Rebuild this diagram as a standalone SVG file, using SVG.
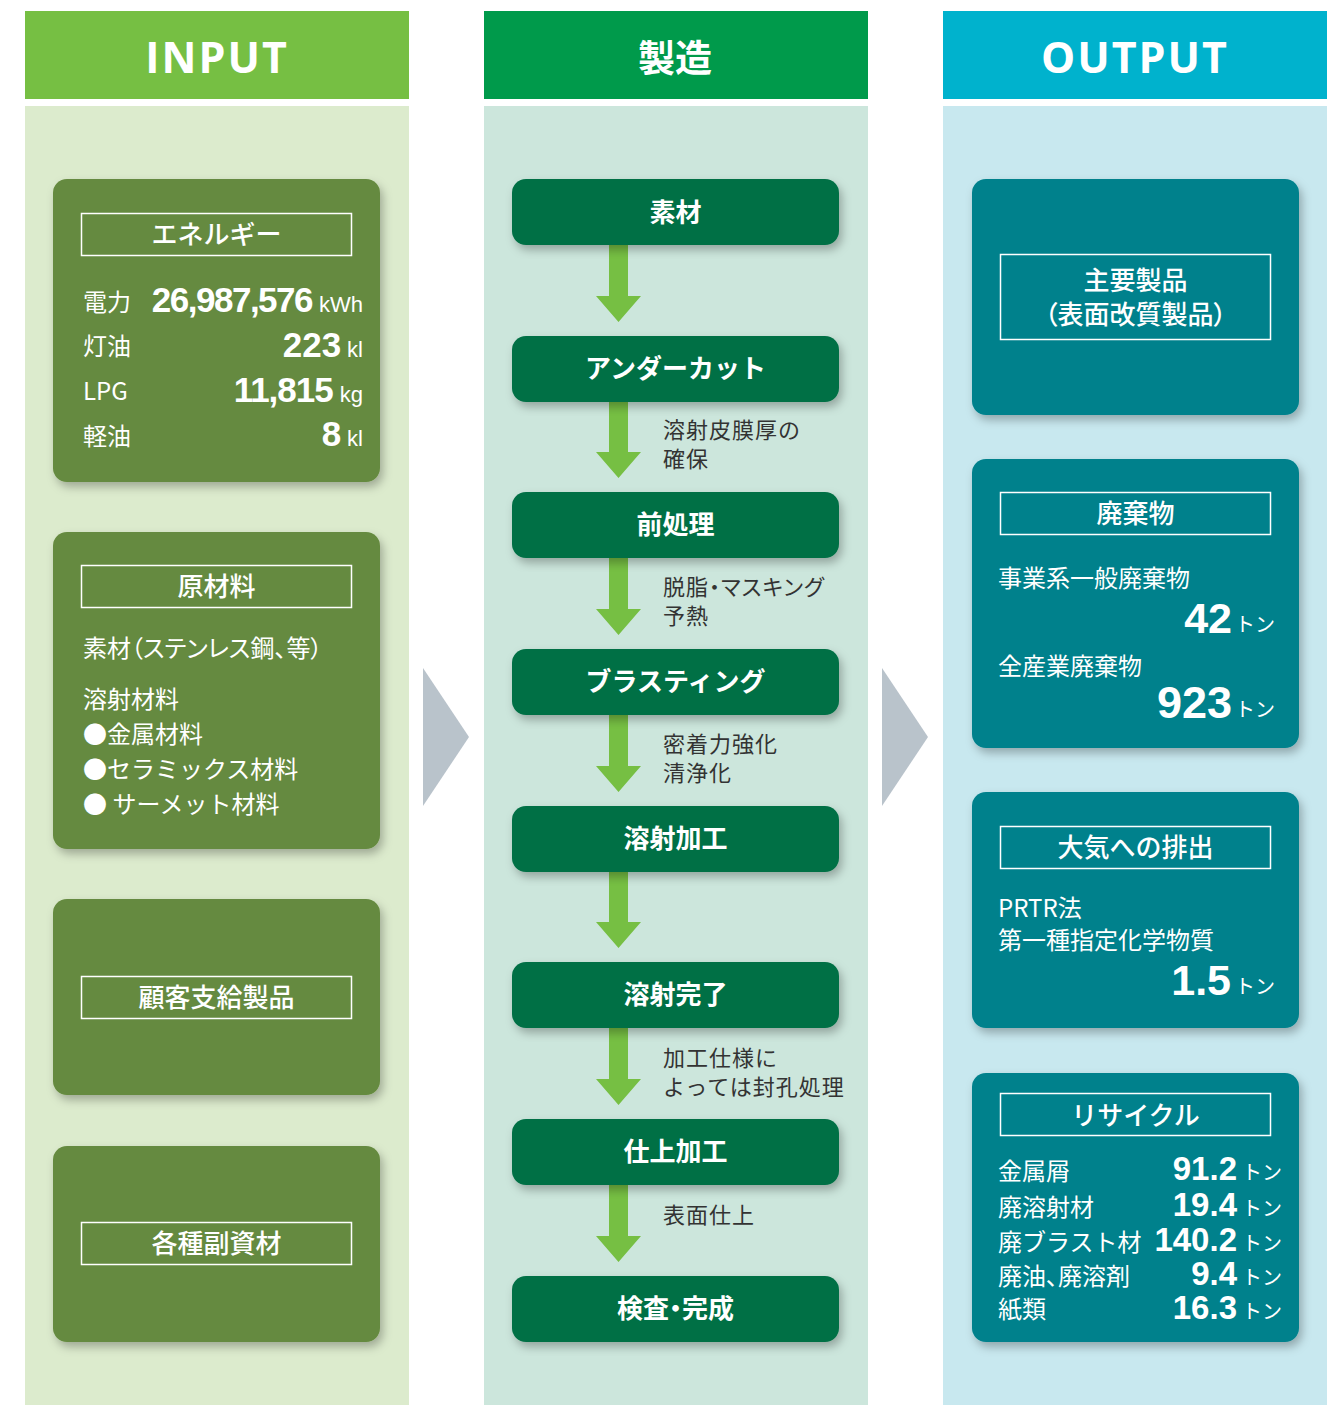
<svg xmlns="http://www.w3.org/2000/svg" width="1338" height="1405" viewBox="0 0 1338 1405">
<defs>
<filter id="sh" x="-10%" y="-10%" width="125%" height="130%">
<feDropShadow dx="3" dy="5" stdDeviation="5" flood-color="#000" flood-opacity="0.28"/>
</filter>
<style>
.hd{font-family:"Open Sans","Noto Sans",sans-serif;font-weight:bold;font-size:43px;fill:#fff;text-anchor:middle;letter-spacing:2px;}
.hdj{font-family:"Noto Sans CJK JP",sans-serif;font-weight:bold;font-size:37px;fill:#fff;text-anchor:middle;}
.ibox{fill:#658a3f;filter:url(#sh);}
.obox{fill:#00818c;filter:url(#sh);}
.pbox{fill:#006f45;filter:url(#sh);}
.frame{fill:none;stroke:#fff;stroke-width:1.5;}
.ttl{font-family:"Noto Sans CJK JP",sans-serif;font-size:26px;font-weight:500;fill:#fff;text-anchor:middle;}
.ptx{font-family:"Noto Sans CJK JP",sans-serif;font-size:26px;font-weight:bold;fill:#fff;text-anchor:middle;}
.lbl{font-family:"Noto Sans CJK JP",sans-serif;font-size:24px;fill:#fff;}
.side{font-family:"Noto Sans CJK JP",sans-serif;font-size:22px;letter-spacing:1px;fill:#333;}
.palt{font-feature-settings:"palt";}
.num{font-family:"Liberation Sans",Arial,sans-serif;font-weight:bold;fill:#fff;text-anchor:end;}
.erow{font-family:"Liberation Sans",Arial,sans-serif;fill:#fff;text-anchor:end;}
.en{font-weight:bold;font-size:35px;}
.eu{font-size:22px;}
.ton{font-family:"Noto Sans CJK JP",sans-serif;font-size:20px;fill:#fff;}
.arr{fill:#76bf43;}
.tri{fill:#b9c3cb;}
</style>
</defs>
<rect width="1338" height="1405" fill="#fff"/>
<g id="columns">
<rect x="25" y="11" width="384" height="88" fill="#76bf43"/>
<rect x="25" y="106" width="384" height="1299" fill="#dcebcd"/>
<rect x="484" y="11" width="384" height="88" fill="#009a4b"/>
<rect x="484" y="106" width="384" height="1299" fill="#cce6dc"/>
<rect x="943" y="11" width="384" height="88" fill="#00b2cd"/>
<rect x="943" y="106" width="384" height="1299" fill="#c8e8ef"/>
<text class="hd" x="217" y="73">INPUT</text>
<text class="hdj" x="675" y="72">製造</text>
<text class="hd" x="1135" y="73">OUTPUT</text>
</g>
<g id="energy">
<rect class="ibox" x="53" y="179" width="327" height="303" rx="14"/>
<rect class="frame" x="81.5" y="213.5" width="270" height="42"/>
<text class="ttl" x="216.5" y="244">エネルギー</text>
<text class="lbl" x="83" y="311">電力</text>
<text class="lbl" x="83" y="355">灯油</text>
<text class="lbl" x="83" y="400">LPG</text>
<text class="lbl" x="83" y="445">軽油</text>
<text class="erow" x="363" y="312"><tspan class="en" font-size="33" letter-spacing="-1.5">26,987,576</tspan><tspan class="eu" dx="7">kWh</tspan></text>
<text class="erow" x="363" y="357"><tspan class="en">223</tspan><tspan class="eu" dx="6">kl</tspan></text>
<text class="erow" x="363" y="402"><tspan class="en" font-size="33" letter-spacing="-1">11,815</tspan><tspan class="eu" dx="7">kg</tspan></text>
<text class="erow" x="363" y="446"><tspan class="en">8</tspan><tspan class="eu" dx="6">kl</tspan></text>
</g>
<g id="raw-materials">
<rect class="ibox" x="53" y="532" width="327" height="317" rx="14"/>
<rect class="frame" x="81.5" y="565.5" width="270" height="42"/>
<text class="ttl" x="216.5" y="596">原材料</text>
<text class="lbl palt" x="83" y="657">素材（ステンレス鋼、等）</text>
<text class="lbl" x="83" y="708">溶射材料</text>
<text class="lbl" x="83" y="743">●金属材料</text>
<text class="lbl" x="83" y="778">●セラミックス材料</text>
<text class="lbl" x="83" y="813">● サーメット材料</text>
</g>
<g id="customer-supplied">
<rect class="ibox" x="53" y="899" width="327" height="196" rx="14"/>
<rect class="frame" x="81.5" y="976.5" width="270" height="42"/>
<text class="ttl" x="216.5" y="1007">顧客支給製品</text>
</g>
<g id="auxiliary">
<rect class="ibox" x="53" y="1146" width="327" height="196" rx="14"/>
<rect class="frame" x="81.5" y="1222.5" width="270" height="42"/>
<text class="ttl" x="216.5" y="1253">各種副資材</text>
</g>
<g id="connectors">
<path class="tri" d="M423,668 L469,737 L423,806 Z"/>
<path class="tri" d="M882,668 L928,737 L882,806 Z"/>
<path class="arr" d="M609,245 H628 V296 H641 L618.5,322 L596,296 H609 Z"/>
<path class="arr" d="M609,402 H628 V452 H641 L618.5,478 L596,452 H609 Z"/>
<path class="arr" d="M609,558 H628 V609 H641 L618.5,635 L596,609 H609 Z"/>
<path class="arr" d="M609,715 H628 V766 H641 L618.5,792 L596,766 H609 Z"/>
<path class="arr" d="M609,872 H628 V922 H641 L618.5,948 L596,922 H609 Z"/>
<path class="arr" d="M609,1028 H628 V1079 H641 L618.5,1105 L596,1079 H609 Z"/>
<path class="arr" d="M609,1185 H628 V1236 H641 L618.5,1262 L596,1236 H609 Z"/>
</g>
<g id="p-sozai"><rect class="pbox" x="512" y="179" width="327" height="66" rx="14"/><text class="ptx" x="675.5" y="222">素材</text></g>
<g id="p-undercut"><rect class="pbox" x="512" y="336" width="327" height="66" rx="14"/><text class="ptx" x="675.5" y="378">アンダーカット</text></g>
<g id="p-pretreat"><rect class="pbox" x="512" y="492" width="327" height="66" rx="14"/><text class="ptx" x="675.5" y="534">前処理</text></g>
<g id="p-blasting"><rect class="pbox" x="512" y="649" width="327" height="66" rx="14"/><text class="ptx" x="675.5" y="691">ブラスティング</text></g>
<g id="p-spray"><rect class="pbox" x="512" y="806" width="327" height="66" rx="14"/><text class="ptx" x="675.5" y="848">溶射加工</text></g>
<g id="p-spraydone"><rect class="pbox" x="512" y="962" width="327" height="66" rx="14"/><text class="ptx" x="675.5" y="1004">溶射完了</text></g>
<g id="p-finish"><rect class="pbox" x="512" y="1119" width="327" height="66" rx="14"/><text class="ptx" x="675.5" y="1161">仕上加工</text></g>
<g id="p-inspect"><rect class="pbox" x="512" y="1276" width="327" height="66" rx="14"/><text class="ptx palt" x="675.5" y="1318">検査・完成</text></g>
<g id="side-notes">
<text class="side" x="663" y="438">溶射皮膜厚の<tspan x="663" dy="29">確保</tspan></text>
<text class="side palt" x="663" y="595">脱脂・マスキング<tspan x="663" dy="29">予熱</tspan></text>
<text class="side" x="663" y="752">密着力強化<tspan x="663" dy="29">清浄化</tspan></text>
<text class="side" x="663" y="1066">加工仕様に<tspan x="663" dy="29">よっては封孔処理</tspan></text>
<text class="side" x="663" y="1223">表面仕上</text>
</g>
<g id="main-products">
<rect class="obox" x="972" y="179" width="327" height="236" rx="14"/>
<rect class="frame" x="1000.5" y="254.5" width="270" height="85"/>
<text class="ttl palt" x="1135.5" y="290"><tspan font-feature-settings="normal">主要製品</tspan><tspan x="1135.5" dy="34">（表面改質製品）</tspan></text>
</g>
<g id="waste">
<rect class="obox" x="972" y="459" width="327" height="289" rx="14"/>
<rect class="frame" x="1000.5" y="492.5" width="270" height="42"/>
<text class="ttl" x="1135.5" y="523">廃棄物</text>
<text class="lbl" x="998" y="587">事業系一般廃棄物</text>
<text class="num" x="1232" y="633" font-size="43">42</text>
<text class="ton" x="1235" y="632">トン</text>
<text class="lbl" x="998" y="675">全産業廃棄物</text>
<text class="num" x="1232" y="718" font-size="45">923</text>
<text class="ton" x="1235" y="717">トン</text>
</g>
<g id="air-emission">
<rect class="obox" x="972" y="792" width="327" height="236" rx="14"/>
<rect class="frame" x="1000.5" y="826.5" width="270" height="42"/>
<text class="ttl" x="1135.5" y="857">大気への排出</text>
<text class="lbl" x="998" y="917">PRTR法</text>
<text class="lbl" x="998" y="949">第一種指定化学物質</text>
<text class="num" x="1231" y="995" font-size="43">1.5</text>
<text class="ton" x="1235" y="994">トン</text>
</g>
<g id="recycle">
<rect class="obox" x="972" y="1073" width="327" height="269" rx="14"/>
<rect class="frame" x="1000.5" y="1093.5" width="270" height="42"/>
<text class="ttl" x="1135.5" y="1125">リサイクル</text>
<text class="lbl" x="998" y="1180">金属屑</text>
<text class="lbl" x="998" y="1216">廃溶射材</text>
<text class="lbl" x="998" y="1251">廃ブラスト材</text>
<text class="lbl palt" x="998" y="1285">廃油、廃溶剤</text>
<text class="lbl" x="998" y="1318">紙類</text>
<text class="num" x="1237" y="1180" font-size="33">91.2</text>
<text class="num" x="1237" y="1216" font-size="33">19.4</text>
<text class="num" x="1237" y="1251" font-size="33">140.2</text>
<text class="num" x="1237" y="1285" font-size="33">9.4</text>
<text class="num" x="1237" y="1319" font-size="33">16.3</text>
<text class="ton" x="1242" y="1180">トン</text>
<text class="ton" x="1242" y="1216">トン</text>
<text class="ton" x="1242" y="1251">トン</text>
<text class="ton" x="1242" y="1285">トン</text>
<text class="ton" x="1242" y="1319">トン</text>
</g>
</svg>
